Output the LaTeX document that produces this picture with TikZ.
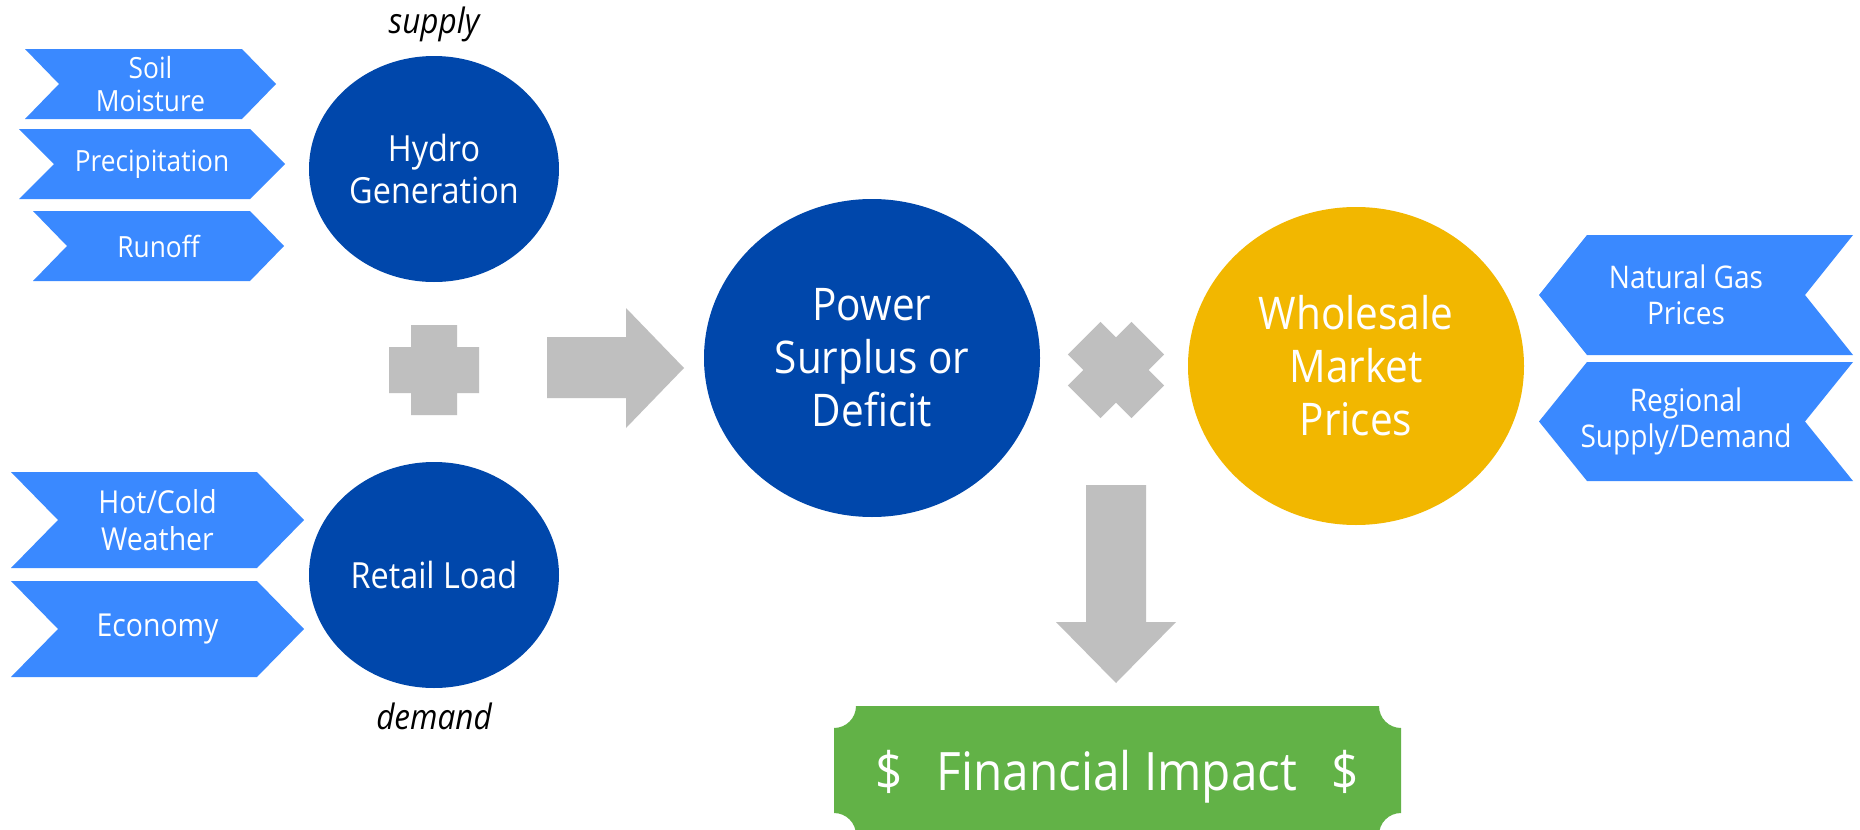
\documentclass[tikz,border=0pt]{standalone}
\usepackage{fontspec}
\setmainfont{Open Sans}[FakeStretch=0.9]
\usepackage{tikz}
\usetikzlibrary{shapes.geometric,positioning}
\definecolor{chevblue}{RGB}{58,137,255}
\definecolor{hubblue}{RGB}{0,71,171}
\definecolor{hubgold}{RGB}{242,183,0}
\definecolor{signgray}{RGB}{191,191,191}
\definecolor{cashgreen}{RGB}{98,178,71}

\begin{document}
\begin{tikzpicture}[x=0.5pt, y=-0.5pt,
    C/.style = {ellipse, fill=hubblue, text=white,% styles of small hubs
                minimum width=125pt, minimum height=113pt,
                inner sep=0pt, outer sep=0pt,
                align=center, font=\fontsize{18}{21}\selectfont},
    E/.style = {ellipse, fill=hubblue, text=white,% styles of big hubs
                minimum width=168pt, minimum height=159pt,
                inner sep=0pt, outer sep=0pt,
                align=center, font=\fontsize{22.5}{26.5}\selectfont},
    L/.style 2 args = {text=white, align=center, inner sep=0pt,% chevron labels
                font=\fontsize{#1}{#2}\selectfont},
    W/.style = {font=\fontsize{17.5}{21}\selectfont\itshape, inner sep=0pt},
                        ]
\useasboundingbox (0,0) rectangle (1860,830);
\fill[white] (0,0) rectangle (1860,830);
% chevrons pointing right (supply)
\foreach \nm/\xa/\xb/\ya/\yb/\dep/\txt in {soil/25/242/49/119/34/{Soil\\Moisture},
        precip/19/250/129/199/35/Precipitation,
        runoff/33/250/211/281/34/Runoff}% <-- content of nodes
  {\fill[chevblue] (\xa,\ya) -- (\xb,\ya) -- (\xb+\dep,{(\ya+\yb)/2}) -- (\xb,\yb)
        -- (\xa,\yb) -- (\xa+\dep,{(\ya+\yb)/2}) -- cycle;
   \node[L={14.6}{16.7}] (\nm) at ({(\xa+\xb+\dep)/2},{(\ya+\yb)/2}) {\txt};}
% chevrons pointing right (demand)
\foreach \nm/\xa/\xb/\ya/\yb/\dep/\txt in {weather/11/257/472/568/47/{Hot/Cold\\Weather},
        economy/11/257/581/677/47/Economy}% <-- content of nodes
  {\fill[chevblue] (\xa,\ya) -- (\xb,\ya) -- (\xb+\dep,{(\ya+\yb)/2}) -- (\xb,\yb)
        -- (\xa,\yb) -- (\xa+\dep,{(\ya+\yb)/2}) -- cycle;
   \node[L={15.8}{18.3}] (\nm) at ({(\xa+\xb+\dep)/2},{(\ya+\yb)/2}) {\txt};}
% chevrons pointing left (prices)
\foreach \nm/\xa/\xb/\ya/\yb/\dep/\txt in {gas/1587/1853/235/355/48/{Natural Gas\\Prices},
        region/1587/1853/362/481/48/{Regional\\Supply/Demand}}% <-- content of nodes
  {\fill[chevblue] (\xa,\ya) -- (\xb,\ya) -- (\xb-\dep,{(\ya+\yb)/2}) -- (\xb,\yb)
        -- (\xa,\yb) -- (\xa-\dep,{(\ya+\yb)/2}) -- cycle;
   \node[L={15.6}{18}] (\nm) at (1686,{(\ya+\yb)/2}) {\txt};}
% hubs
\node[C] (hydro)  at (434,169) {Hydro\\Generation};
\node[C] (retail) at (434,575) {Retail Load};
\node[E] (power)  at (872,358) {Power\\Surplus or\\Deficit};
\node[E, fill=hubgold] (market) at (1356,366) {Wholesale\\Market\\Prices};
\node[W, above=7pt of hydro]  (supply) {supply};
\node[W, below=7.5pt of retail] (demand) {demand};
% gray signs and block arrows
\fill[signgray, shift={(434,370)}] (-23,-45) rectangle (23,45) (-45,-23) rectangle (45,23);
\fill[signgray, shift={(1116,370)}, rotate=45] (-23,-45) rectangle (23,45) (-45,-23) rectangle (45,23);
\fill[signgray] (547,337) -- (626,337) -- (626,308) -- (684,368) -- (626,428)
    -- (626,398) -- (547,398) -- cycle;
\fill[signgray] (1086,485) -- (1146,485) -- (1146,622) -- (1176,622) -- (1116,683)
    -- (1056,622) -- (1086,622) -- cycle;
% plaque
\fill[cashgreen] (856,706) -- (1379,706) arc[start angle=180, end angle=90, radius=22]
    -- (1401,813) arc[start angle=270, end angle=180, radius=22]
    -- (856,835) arc[start angle=0, end angle=-90, radius=22]
    -- (834,728) arc[start angle=90, end angle=0, radius=22] -- cycle;
\node[text=white, inner sep=0pt, anchor=base, font=\fontsize{26.5}{31}\selectfont]
    (impact) at (1117,790) {\$\hspace{17pt}Financial Impact\hspace{17pt}\$};
\end{tikzpicture}
\end{document}
